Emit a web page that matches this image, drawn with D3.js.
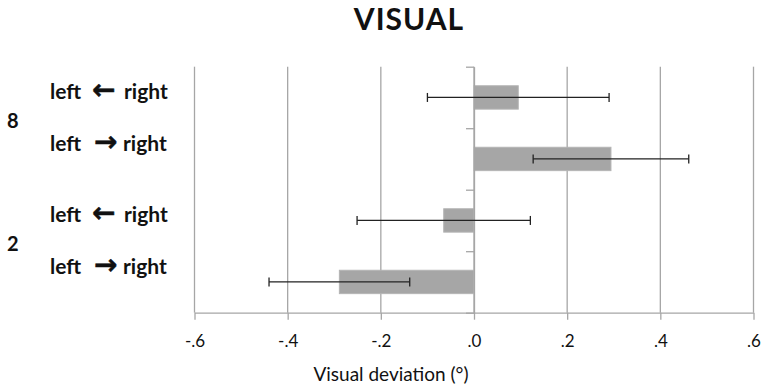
<!DOCTYPE html>
<html>
<head>
<meta charset="utf-8">
<script src="https://cdn.jsdelivr.net/npm/d3@7"></script>
<style>
  body { margin: 0; background: #fff; }
  text { font-family: Lato, "Open Sans", sans-serif; fill: #111; }
</style>
</head>
<body>
<svg id="chart" width="768" height="390"></svg>
<script>
// rows from top to bottom
const rows = ["8-rl", "8-lr", "2-rl", "2-lr"];
const arrows = ["\u2190", "\u2192", "\u2190", "\u2192"];
const means = [0.095, 0.294, -0.065, -0.289];
const errors = [0.195, 0.167, 0.186, 0.151];
const groups = ["8", "2"];
const xTicks = [-0.6, -0.4, -0.2, 0, 0.2, 0.4, 0.6];

const svg = d3.select("#chart");

const plot = { left: 194.5, right: 753.5, top: 66.7, bottom: 312.7 };

const x = d3.scaleLinear()
    .domain([-0.6, 0.6])
    .range([plot.left, plot.right]);

const y = d3.scaleBand()
    .domain(rows)
    .range([plot.top, plot.bottom])
    .padding(0);

// boundaries between rows, for the category ticks
const yEdge = d3.scaleLinear()
    .domain([0, rows.length])
    .range([plot.top, plot.bottom]);

const barH = y.bandwidth() * 0.38;

// title
svg.append("text")
    .attr("x", 409)
    .attr("y", 30)
    .attr("text-anchor", "middle")
    .style("font-size", "30px")
    .style("font-weight", "bold")
    .style("letter-spacing", "1px")
    .text("VISUAL");

// vertical gridlines
svg.append("g")
  .selectAll("line")
  .data(xTicks)
  .join("line")
    .attr("x1", d => x(d))
    .attr("x2", d => x(d))
    .attr("y1", plot.top)
    .attr("y2", plot.bottom)
    .attr("stroke", "#a6a6a6")
    .attr("stroke-width", 1.3);

// x axis
const fmt = d => d3.format(".1f")(d).replace("0.", ".").replace("\u2212", "-");
const xAxisG = svg.append("g")
    .attr("transform", `translate(0,${plot.bottom})`)
    .call(d3.axisBottom(x).tickValues(xTicks).tickFormat(fmt).tickSize(7).tickPadding(15).tickSizeOuter(0));
xAxisG.select(".domain").attr("stroke", "#a6a6a6").attr("stroke-width", 1.3);
xAxisG.selectAll(".tick line").attr("stroke", "#a6a6a6").attr("stroke-width", 1.3);
xAxisG.selectAll(".tick text")
    .style("font-size", "17px")
    .style("font-family", "Lato, 'Open Sans', sans-serif")
    .attr("fill", "#111");

svg.append("text")
    .attr("x", 391)
    .attr("y", 381)
    .attr("text-anchor", "middle")
    .style("font-size", "19px")
    .text("Visual deviation (\u00b0)");

// bars
svg.append("g")
  .selectAll("rect")
  .data(rows)
  .join("rect")
    .attr("x", (d, i) => Math.min(x(0), x(means[i])))
    .attr("width", (d, i) => Math.abs(x(means[i]) - x(0)))
    .attr("y", d => y(d) + (y.bandwidth() - barH) / 2)
    .attr("height", barH)
    .attr("fill", "#a6a6a6")
    .attr("stroke", "#b4b4b4")
    .attr("stroke-width", 1);

// y axis at zero with category ticks
const yAxisG = svg.append("g")
    .attr("transform", `translate(${x(0)},0)`)
    .call(d3.axisLeft(yEdge).ticks(rows.length).tickFormat("").tickSize(8).tickSizeOuter(0));
yAxisG.select(".domain").attr("stroke", "#a6a6a6").attr("stroke-width", 1.3);
yAxisG.selectAll(".tick line").attr("stroke", "#a6a6a6").attr("stroke-width", 1.3);

// error bars
const err = svg.append("g")
  .selectAll("g")
  .data(rows)
  .join("g")
    .attr("stroke", "#222")
    .attr("stroke-width", 1.3);
err.append("line")
    .attr("x1", (d, i) => x(means[i] - errors[i]))
    .attr("x2", (d, i) => x(means[i] + errors[i]))
    .attr("y1", d => y(d) + y.bandwidth() / 2)
    .attr("y2", d => y(d) + y.bandwidth() / 2);
[-1, 1].forEach(s => {
  err.append("line")
      .attr("x1", (d, i) => x(means[i] + s * errors[i]))
      .attr("x2", (d, i) => x(means[i] + s * errors[i]))
      .attr("y1", d => y(d) + y.bandwidth() / 2 - 4.5)
      .attr("y2", d => y(d) + y.bandwidth() / 2 + 4.5);
});

// row labels: the pair sits around the group boundary, not the bar centres
const labels = svg.append("g")
  .selectAll("text")
  .data(rows)
  .join("text")
    .attr("y", (d, i) => yEdge(Math.floor(i / 2) * 2 + 1) - 3 + (i % 2 === 0 ? -26 : 26))
    .style("font-size", "21px")
    .style("font-weight", "bold");
labels.append("tspan").attr("x", 50).text("left");
// the arrows look heavier in the original, so give them a thin outline
labels.append("tspan")
    .attr("x", (d, i) => i % 2 === 0 ? 92 : 94)
    .attr("font-family", "'DejaVu Sans', sans-serif")
    .attr("font-size", "28px")
    .attr("stroke", "#111")
    .attr("stroke-width", 0.5)
    .text((d, i) => arrows[i]);
labels.append("tspan")
    .attr("x", (d, i) => i % 2 === 0 ? 124 : 123)
    .text("right");

// group labels
svg.append("g")
  .selectAll("text")
  .data(groups)
  .join("text")
    .attr("x", 7)
    .attr("y", (d, i) => yEdge(i * 2 + 1))
    .style("font-size", "20px")
    .style("font-weight", "bold")
    .text(d => d);
</script>
</body>
</html>
